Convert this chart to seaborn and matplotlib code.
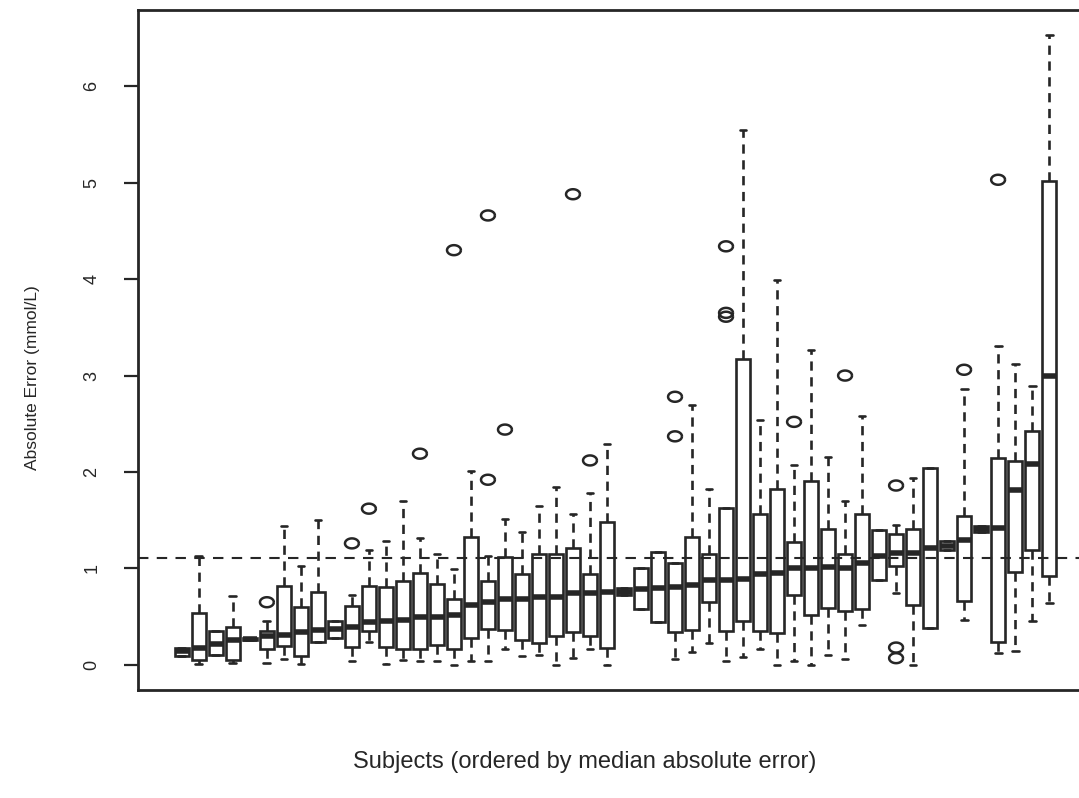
import numpy as np
import pandas as pd
import matplotlib
matplotlib.use("Agg")
import matplotlib.pyplot as plt
import seaborn as sns

# box statistics per subject, subjects ordered by median absolute error (mmol/L)
whisker_lo = [0.09, 0.01, 0.10, 0.02, 0.26, 0.02, 0.06, 0.01, 0.24, 0.28,
              0.04, 0.24, 0.01, 0.05, 0.04, 0.04, 0.00, 0.04, 0.04, 0.16,
              0.09, 0.10, 0.00, 0.07, 0.17, 0.00, 0.72, 0.58, 0.44, 0.06,
              0.13, 0.23, 0.04, 0.08, 0.17, 0.00, 0.04, 0.00, 0.10, 0.06,
              0.41, 0.88, 0.75, 0.00, 0.38, 1.19, 0.47, 1.38, 0.12, 0.14,
              0.46, 0.64]
q1 = [0.09, 0.05, 0.10, 0.05, 0.26, 0.16, 0.20, 0.09, 0.24, 0.28,
      0.19, 0.35, 0.19, 0.17, 0.17, 0.21, 0.16, 0.28, 0.37, 0.36,
      0.26, 0.23, 0.30, 0.34, 0.30, 0.18, 0.72, 0.58, 0.44, 0.34,
      0.36, 0.65, 0.35, 0.46, 0.35, 0.33, 0.73, 0.52, 0.59, 0.56,
      0.58, 0.88, 1.03, 0.62, 0.38, 1.19, 0.66, 1.38, 0.24, 0.96,
      1.19, 0.92]
median = [0.14, 0.18, 0.22, 0.26, 0.27, 0.30, 0.31, 0.34, 0.36, 0.37,
          0.39, 0.45, 0.46, 0.47, 0.50, 0.50, 0.52, 0.62, 0.65, 0.68,
          0.68, 0.70, 0.70, 0.75, 0.75, 0.76, 0.76, 0.79, 0.80, 0.81,
          0.83, 0.88, 0.88, 0.89, 0.94, 0.95, 1.00, 1.01, 1.02, 1.01,
          1.06, 1.13, 1.16, 1.16, 1.21, 1.235, 1.30, 1.41, 1.42, 1.81,
          2.08, 3.00]
q3 = [0.18, 0.54, 0.35, 0.39, 0.28, 0.35, 0.82, 0.60, 0.76, 0.46,
      0.61, 0.82, 0.81, 0.87, 0.95, 0.84, 0.68, 1.33, 0.87, 1.12,
      0.94, 1.15, 1.15, 1.21, 0.94, 1.48, 0.80, 1.01, 1.17, 1.06,
      1.33, 1.15, 1.63, 3.17, 1.56, 1.82, 1.27, 1.91, 1.41, 1.15,
      1.56, 1.40, 1.36, 1.41, 2.04, 1.28, 1.54, 1.44, 2.15, 2.11,
      2.43, 5.02]
whisker_hi = [0.18, 1.13, 0.35, 0.71, 0.28, 0.46, 1.44, 1.03, 1.50, 0.46,
              0.73, 1.19, 1.28, 1.70, 1.32, 1.15, 0.99, 2.01, 1.13, 1.51,
              1.38, 1.65, 1.84, 1.56, 1.78, 2.29, 0.80, 1.01, 1.17, 1.06,
              2.69, 1.82, 1.63, 5.55, 2.54, 3.99, 2.07, 3.27, 2.16, 1.70,
              2.58, 1.40, 1.45, 1.94, 2.04, 1.28, 2.86, 1.44, 3.31, 3.12,
              2.89, 6.53]

# outlying observations: subject rank and value
outlier_subject = [6, 11, 12, 15, 17, 19, 19, 20, 24, 25, 30, 30,
                   33, 33, 33, 37, 40, 43, 43, 43, 47, 49]
outlier_value = [0.65, 1.26, 1.62, 2.19, 4.30, 1.92, 4.66, 2.44, 4.88, 2.12, 2.37, 2.78,
                 3.61, 3.65, 4.34, 2.52, 3.00, 0.07, 0.18, 1.86, 3.06, 5.03]

overall_mae = 1.11

subjects = [f"S{i:02d}" for i in range(1, len(median) + 1)]

# five values per subject -> min / quartiles / max give exactly the box above
rows = []
for s, lo, a, m, b, hi in zip(subjects, whisker_lo, q1, median, q3, whisker_hi):
    for v in (lo, a, m, b, hi):
        rows.append({"subject": s, "error": v})
df = pd.DataFrame(rows)
out_df = pd.DataFrame({"subject": [subjects[i - 1] for i in outlier_subject],
                       "error": outlier_value})

sns.set_style("white")
plt.rcParams["font.family"] = ["Liberation Sans", "DejaVu Sans"]

ink = "#262626"
fig = plt.figure(figsize=(10.79, 7.98), dpi=100)
ax = fig.add_axes([138 / 1079, 108 / 798, 955 / 1079, 680 / 798])

sns.boxplot(data=df, x="subject", y="error", order=subjects, whis=(0, 100),
            showfliers=False, color="white", linecolor=ink, linewidth=1.9, width=0.8,
            whiskerprops={"linestyle": (0, (3.5, 2.5))},
            medianprops={"linewidth": 4, "solid_capstyle": "butt"}, ax=ax)

# R-style open circles, a little wider than tall
theta = np.linspace(0, 2 * np.pi, 41)
ring = np.column_stack([np.cos(theta), 0.72 * np.sin(theta)])
sns.stripplot(data=out_df, x="subject", y="error", order=subjects, jitter=False,
              marker=ring, size=10, color=ink, facecolor="none", edgecolor=ink,
              linewidth=1.8, zorder=4, ax=ax)

ax.axhline(overall_mae, color=ink, linestyle=(0, (5, 4)), linewidth=1.5, zorder=5)

ax.set_xlim(-2.58, 53.58)
ax.set_ylim(-0.26, 6.79)
ax.set_xticks([])
ax.set_yticks(range(7))
ax.tick_params(axis="y", left=True, length=10, width=1.6, pad=17, labelsize=13,
               labelrotation=90, color=ink, labelcolor=ink)
for lab in ax.get_yticklabels():
    lab.set_va("center")
for sp in ax.spines.values():
    sp.set_linewidth(2)
    sp.set_color(ink)

ax.set_ylabel("Absolute Error (mmol/L)", fontsize=12.5, color=ink)
ax.yaxis.set_label_coords(-0.103, 0.46)
ax.set_xlabel("Subjects (ordered by median absolute error)", fontsize=17, color=ink)
ax.xaxis.set_label_coords(0.468, -0.09)

fig.savefig("out.png", dpi=100)
